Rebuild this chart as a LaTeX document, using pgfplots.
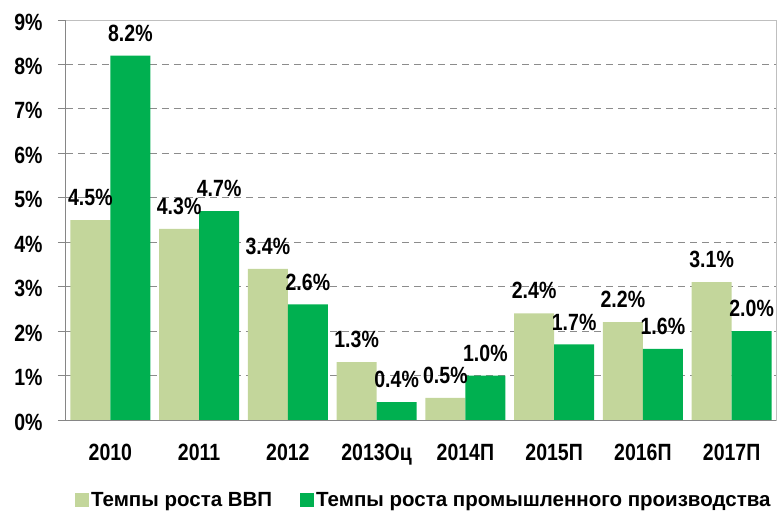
\documentclass[border=0pt]{standalone}
\usepackage{pgfplots}
\pgfplotsset{compat=1.18}
\usepackage{fontspec}
\setmainfont{Liberation Sans}
\newfontfamily\narrowfont[FakeStretch=0.83]{Liberation Sans}
\definecolor{lgreen}{HTML}{C3D69B}
\definecolor{dgreen}{HTML}{00B050}
\definecolor{axgray}{HTML}{868686}
\definecolor{bordergray}{HTML}{BFBFBF}
\definecolor{gridgray}{HTML}{8C8C8C}
\begin{document}
\begin{tikzpicture}
\useasboundingbox (-66pt,-92pt) rectangle (711pt,420pt);
\begin{axis}[
  at={(0pt,0pt)}, anchor=south west,
  scale only axis, width=710pt, height=400pt,
  ybar=0pt, bar width=40pt,
  xmin=-0.5, xmax=7.5, ymin=0, ymax=9,
  xtick={0,...,7},
  xticklabels={2010,2011,2012,2013Оц,2014П,2015П,2016П,2017П},
  minor xtick={-0.5,0.5,...,7.5},
  xtick style={draw=none},
  minor tick length=7pt,
  major tick length=8pt,
  tick align=outside,
  tick pos=left,
  ytick={0,...,9},
  yticklabel={\pgfmathprintnumber{\tick}\%},
  /pgf/number format/assume math mode=true,
  tick style={axgray, line width=1pt},
  minor tick style={axgray, line width=1pt},
  ymajorgrids,
  major grid style={gridgray, line width=1pt, dash pattern=on 7pt off 5pt},
  axis line style={bordergray, line width=1pt},
  ticklabel style={font=\narrowfont\fontsize{23.5}{26}\selectfont\bfseries},
  xticklabel style={yshift=-13pt},
  yticklabel style={xshift=-12pt, yshift=-2pt},
  nodes near coords={\pgfmathprintnumber[fixed,fixed zerofill,precision=1]{\pgfplotspointmeta}\%},
  every node near coord/.append style={font=\narrowfont\fontsize{23.5}{26}\selectfont\bfseries, black, inner sep=0pt, yshift=14pt},
  legend columns=2,
  legend style={draw=none, at={(0.504,-0.2)}, anchor=center, font=\fontsize{20.5}{24}\selectfont\bfseries,
    /tikz/every even column/.append style={column sep=26pt}},
  legend image code/.code={\fill[#1] (0pt,-7pt) rectangle (14pt,7pt);},
  clip=false,
]
\addplot[fill=lgreen, draw=none] coordinates {(0,4.5) (1,4.3) (2,3.4) (3,1.3) (4,0.5) (5,2.4) (6,2.2) (7,3.1)};
\addplot[fill=dgreen, draw=none] coordinates {(0,8.2) (1,4.7) (2,2.6) (3,0.4) (4,1.0) (5,1.7) (6,1.6) (7,2.0)};
\legend{Темпы роста ВВП, Темпы роста промышленного производства}
\draw[axgray, line width=1pt] (rel axis cs:0,1) -- (rel axis cs:0,0) -- (rel axis cs:1,0);
\end{axis}
\end{tikzpicture}
\end{document}
